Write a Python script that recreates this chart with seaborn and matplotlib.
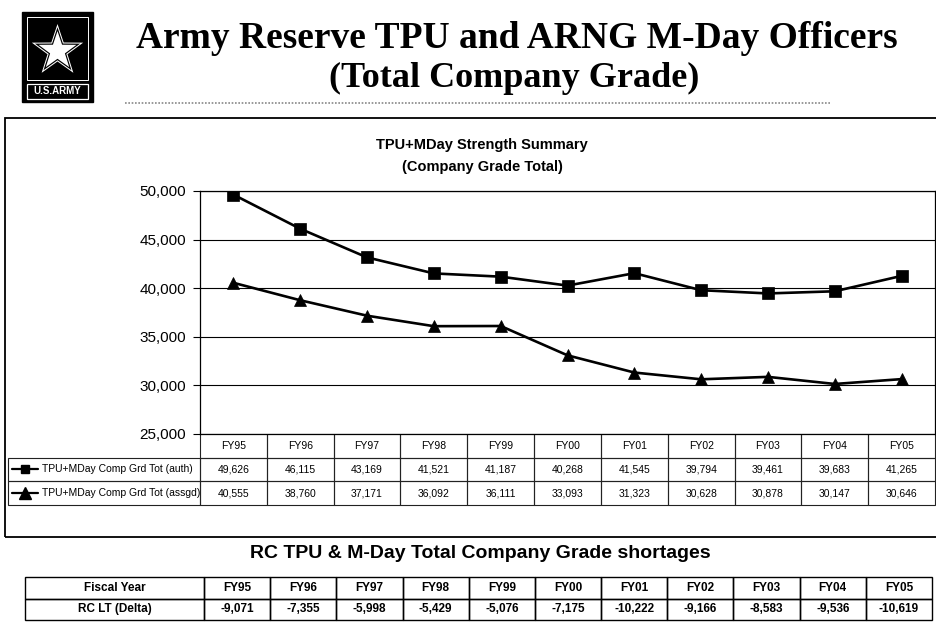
import numpy as np
import pandas as pd
import matplotlib
matplotlib.use("Agg")
import matplotlib.pyplot as plt
import seaborn as sns
from matplotlib.patches import Rectangle, Polygon
from matplotlib.lines import Line2D
from matplotlib.ticker import FuncFormatter

# ---------------- data ----------------
years = ["FY95", "FY96", "FY97", "FY98", "FY99", "FY00", "FY01", "FY02", "FY03", "FY04", "FY05"]
auth = [49626, 46115, 43169, 41521, 41187, 40268, 41545, 39794, 39461, 39683, 41265]
assgd = [40555, 38760, 37171, 36092, 36111, 33093, 31323, 30628, 30878, 30147, 30646]
series_names = ["TPU+MDay Comp Grd Tot (auth)", "TPU+MDay Comp Grd Tot (assgd)"]
delta = [-9071, -7355, -5998, -5429, -5076, -7175, -10222, -9166, -8583, -9536, -10619]
yticks = [25000, 30000, 35000, 40000, 45000, 50000]
main_title = ["Army Reserve TPU and ARNG M-Day Officers", "(Total Company Grade)"]
chart_title = ["TPU+MDay Strength Summary", "(Company Grade Total)"]
bottom_title = "RC TPU & M-Day Total Company Grade shortages"
bottom_row_labels = ["Fiscal Year", "RC LT (Delta)"]

# ---------------- figure ----------------
sns.set_theme(style="white")
plt.rcParams["font.family"] = ["Liberation Sans", "DejaVu Sans"]

W, H = 937, 628
fig = plt.figure(figsize=(W / 100, H / 100), dpi=100)
fig.patch.set_facecolor("white")


def fx(px):
    return px / W


def fy(py):
    return 1 - py / H


# ---------------- logo ----------------
fig.add_artist(Rectangle((fx(22), fy(102)), fx(93) - fx(22), fy(12) - fy(102),
                         transform=fig.transFigure, facecolor="black", edgecolor="black"))
fig.add_artist(Rectangle((fx(27), fy(80)), fx(88) - fx(27), fy(17) - fy(80),
                         transform=fig.transFigure, facecolor="none", edgecolor="white", lw=0.7))
fig.add_artist(Rectangle((fx(27), fy(99)), fx(88) - fx(27), fy(84) - fy(99),
                         transform=fig.transFigure, facecolor="none", edgecolor="white", lw=0.9))


def star_pts(cx, cy, r_out, r_in):
    pts = []
    for k in range(10):
        ang = np.pi / 2 + k * np.pi / 5
        r = r_out if k % 2 == 0 else r_in
        pts.append((fx(cx + r * np.cos(ang)), fy(cy - r * np.sin(ang))))
    return pts


for scale, col in [(1.0, "white"), (0.88, "black"), (0.74, "white")]:
    fig.add_artist(Polygon(star_pts(57.5, 51, 27 * scale, 10.5 * scale), closed=True,
                           transform=fig.transFigure, facecolor=col, edgecolor="none"))
fig.text(fx(57.5), fy(91.5), "U.S.ARMY", color="white", fontsize=7, fontweight="bold",
         ha="center", va="center")

# ---------------- main title ----------------
fig.text(fx(517), fy(38), main_title[0], family=["Liberation Serif", "DejaVu Serif"],
         fontweight="bold", fontsize=27, ha="center", va="center", color="black")
fig.text(fx(514), fy(78), main_title[1], family=["Liberation Serif", "DejaVu Serif"],
         fontweight="bold", fontsize=26, ha="center", va="center", color="black")
fig.add_artist(Line2D([fx(125), fx(830)], [fy(103), fy(103)], transform=fig.transFigure,
                      color="#888888", lw=1.2, ls=(0, (1, 1))))

# ---------------- chart frame ----------------
fig.add_artist(Rectangle((fx(5), fy(537)), fx(945) - fx(5), fy(118) - fy(537),
                         transform=fig.transFigure, facecolor="none", edgecolor="black", lw=1.3))
fig.text(fx(482), fy(145), chart_title[0], fontweight="bold", fontsize=10.5,
         ha="center", va="center", color="black")
fig.text(fx(482), fy(167), chart_title[1], fontweight="bold", fontsize=10.5,
         ha="center", va="center", color="black")

# ---------------- line chart ----------------
ax = fig.add_axes([fx(200), fy(434), fx(935) - fx(200), fy(191) - fy(434)])
df = pd.DataFrame({
    "x": list(range(len(years))) * 2,
    "value": auth + assgd,
    "series": [series_names[0]] * len(years) + [series_names[1]] * len(years),
})
sns.lineplot(data=df, x="x", y="value", hue="series", style="series",
             markers={series_names[0]: "s", series_names[1]: "^"}, dashes=False,
             palette={series_names[0]: "black", series_names[1]: "black"},
             markersize=9, markeredgecolor="black", markeredgewidth=0.5,
             linewidth=1.9, legend=False, ax=ax)
ax.set_xlim(-0.5, len(years) - 0.5)
ax.set_ylim(yticks[0], yticks[-1])
ax.set_yticks(yticks)
ax.yaxis.set_major_formatter(FuncFormatter(lambda v, p: f"{int(v):,}"))
ax.set_xticks([])
ax.set_xlabel("")
ax.set_ylabel("")
ax.tick_params(axis="y", which="major", length=5, width=0.8, color="black",
               labelsize=11, pad=5, left=True, labelcolor="black")
ax.yaxis.grid(True, color="black", lw=0.8)
ax.set_axisbelow(True)
for s in ax.spines.values():
    s.set_visible(True)
    s.set_color("black")
    s.set_linewidth(0.9)
ax.set_facecolor("white")

# data table under the chart
axw = 935 - 200
axh = 434 - 191
cell_text = [[""] + years,
             [series_names[0]] + [f"{v:,}" for v in auth],
             [series_names[1]] + [f"{v:,}" for v in assgd]]
col_w = [192] + [66.8] * len(years)
tbl = ax.table(cellText=cell_text, colWidths=[w / sum(col_w) for w in col_w],
               cellLoc="center",
               bbox=[(8 - 200) / axw, (434 - 505) / axh, (935 - 8) / axw, (505 - 434) / axh])
tbl.auto_set_font_size(False)
tbl.set_fontsize(7.5)
for (r, c), cell in tbl.get_celld().items():
    cell.set_edgecolor("#222222")
    cell.set_linewidth(0.8)
    cell.set_facecolor("none")
    cell.get_text().set_color("black")
    if r == 0 and c == 0:
        cell.visible_edges = ""
    elif r == 0:
        cell.visible_edges = "LRB"
    if c == 0 and r > 0:
        cell._loc = "left"
        cell.get_text().set_ha("left")
        cell.PAD = 34 / 192

# legend keys inside the table label column
row_centers = [468.5, 492.5]
for yc, mk, ms in zip(row_centers, ["s", "^"], [6, 8]):
    fig.add_artist(Line2D([fx(12), fx(38)], [fy(yc), fy(yc)], transform=fig.transFigure,
                          color="black", lw=1.6))
    fig.add_artist(Line2D([fx(25)], [fy(yc)], transform=fig.transFigure, marker=mk,
                          markersize=ms, color="black", lw=0))

# ---------------- bottom table ----------------
fig.text(fx(480), fy(553), bottom_title, fontweight="bold", fontsize=14,
         ha="center", va="center", color="black")
ax2 = fig.add_axes([fx(25), fy(620), fx(932) - fx(25), fy(577) - fy(620)])
ax2.axis("off")
cell_text2 = [[bottom_row_labels[0]] + years,
              [bottom_row_labels[1]] + [f"{v:,}" for v in delta]]
col_w2 = [179] + [66.2] * len(years)
tbl2 = ax2.table(cellText=cell_text2, colWidths=[w / sum(col_w2) for w in col_w2],
                 cellLoc="center", bbox=[0, 0, 1, 1])
tbl2.auto_set_font_size(False)
tbl2.set_fontsize(8.5)
for (r, c), cell in tbl2.get_celld().items():
    cell.set_edgecolor("black")
    cell.set_linewidth(1.0)
    cell.set_facecolor("none")
    cell.get_text().set_fontweight("bold")
    cell.get_text().set_color("black")

fig.savefig("out.png", dpi=100, facecolor="white")
